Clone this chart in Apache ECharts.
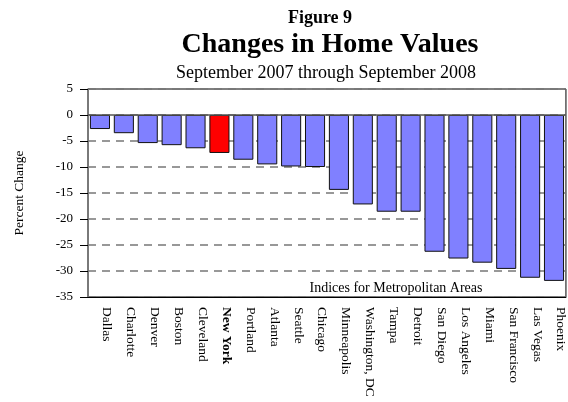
<!DOCTYPE html>
<html lang="en" style="height: 100%">
<head>
  <meta charset="utf-8">
</head>
<body style="height: 100%; margin: 0">
  <div id="container" style="width: 568px; height: 402px"></div>

  <script type="text/javascript" src="https://cdn.jsdelivr.net/npm/echarts@6/dist/echarts.min.js"></script>

  <script type="text/javascript">
    // metro areas, Sep 2007 -> Sep 2008, percent change
    var cities = ['Dallas', 'Charlotte', 'Denver', 'Boston', 'Cleveland', 'New York', 'Portland',
      'Atlanta', 'Seattle', 'Chicago', 'Minneapolis', 'Washington, DC', 'Tampa', 'Detroit',
      'San Diego', 'Los Angeles', 'Miami', 'San Francisco', 'Las Vegas', 'Phoenix'];
    var changes = [-2.7, -3.5, -5.4, -5.8, -6.4, -7.3, -8.6, -9.5, -9.9, -10.0, -14.4, -17.2,
      -18.6, -18.6, -26.3, -27.6, -28.4, -29.6, -31.3, -31.9];
    var highlight = 'New York';

    var FONT = '"Liberation Serif", "Times New Roman", serif';

    var dom = document.getElementById('container');
    var myChart = echarts.init(dom, null, { renderer: 'canvas' });
    var option;

    option = {
      backgroundColor: '#fff',
      textStyle: { fontFamily: FONT },
      title: [
        {
          text: 'Figure 9',
          left: 315, top: 4,
          textAlign: 'center',
          textStyle: { fontFamily: FONT, fontSize: 18, fontWeight: 'bold', color: '#000' }
        },
        {
          text: 'Changes in Home Values',
          left: 325, top: 26,
          textAlign: 'center',
          textStyle: { fontFamily: FONT, fontSize: 28, fontWeight: 'bold', color: '#000' }
        },
        {
          text: 'September 2007 through September 2008',
          left: 321, top: 59,
          textAlign: 'center',
          textStyle: { fontFamily: FONT, fontSize: 18, fontWeight: 'normal', color: '#000' }
        },
        {
          text: 'Indices for Metropolitan Areas',
          left: 391, top: 276,
          textAlign: 'center',
          textStyle: { fontFamily: FONT, fontSize: 14, fontWeight: 'normal', color: '#000' }
        }
      ],
      grid: {
        left: 88, right: 2, top: 89, bottom: 105,
        show: true,
        borderColor: '#000',
        borderWidth: 1
      },
      xAxis: {
        type: 'category',
        data: cities,
        axisLine: { onZero: false, lineStyle: { color: '#000' } },
        axisTick: { alignWithLabel: true, length: 8, lineStyle: { color: '#000' } },
        axisLabel: {
          rotate: -90,
          interval: 0,
          margin: 10,
          verticalAlign: 'bottom',
          fontFamily: FONT,
          fontSize: 13.5,
          color: '#000',
          formatter: function (v) { return v === highlight ? '{b|' + v + '}' : v; },
          rich: { b: { fontFamily: FONT, fontSize: 13.5, fontWeight: 'bold', color: '#000' } }
        }
      },
      yAxis: {
        type: 'value',
        min: -35, max: 5, interval: 5,
        name: 'Percent Change',
        nameLocation: 'middle',
        nameGap: 62,
        nameTextStyle: { fontFamily: FONT, fontSize: 13.5, color: '#000' },
        axisLine: { show: true, lineStyle: { color: '#777', width: 1.5 } },
        axisTick: { show: true, length: 8, lineStyle: { color: '#000' } },
        axisLabel: { fontFamily: FONT, fontSize: 13, color: '#000', margin: 15 },
        splitLine: { lineStyle: { color: '#777', type: [8, 6], width: 1.5 } }
      },
      series: [
        {
          type: 'bar',
          barCategoryGap: '16%',
          data: changes.map(function (v, i) {
            return cities[i] === highlight ? { value: v, itemStyle: { color: '#ff0000' } } : v;
          }),
          itemStyle: { color: '#8080ff', borderColor: '#111', borderWidth: 1 },
          markLine: {
            silent: true,
            symbol: 'none',
            label: { show: false },
            lineStyle: { color: '#555', type: 'solid', width: 1.5 },
            data: [{ yAxis: 0 }]
          }
        }
      ]
    };

    if (option && typeof option === 'object') {
      myChart.setOption(option);
    }

    window.addEventListener('resize', myChart.resize);
  </script>
</body>
</html>
